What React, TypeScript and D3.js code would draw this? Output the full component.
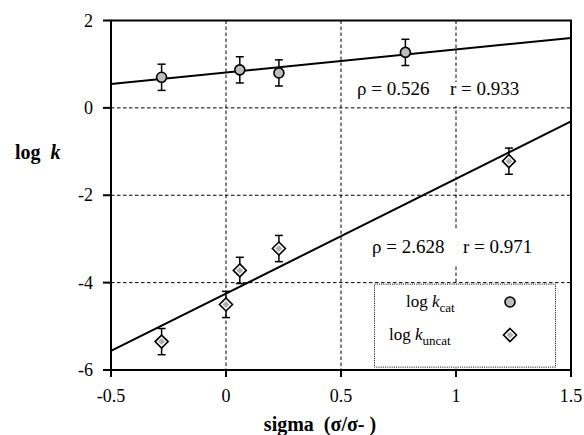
import { scaleLinear, line } from "d3";

// sigma values and log k readings
const catSigma = [-0.28, 0.06, 0.23, 0.78];
const catLogK = [0.7, 0.87, 0.8, 1.27];
const catErr = [0.3, 0.3, 0.3, 0.3];

const uncatSigma = [-0.28, 0, 0.06, 0.23, 1.23];
const uncatLogK = [-5.35, -4.5, -3.72, -3.22, -1.22];
const uncatErr = [0.3, 0.3, 0.3, 0.3, 0.3];

// linear fits (slope, intercept)
const catFit = [0.526, 0.81];
const uncatFit = [2.628, -4.25];

const xTicks = [-0.5, 0, 0.5, 1, 1.5];
const yTicks = [2, 0, -2, -4, -6];
const xGrid = [0, 0.5, 1];
const yGrid = [0, -2, -4];

const W = 584;
const H = 435;
const m = { left: 111, right: 13, top: 20.5, bottom: 65 };
const serif = "Liberation Serif, DejaVu Serif, serif";

export default function App() {
  const x = scaleLinear().domain([-0.5, 1.5]).range([m.left, W - m.right]);
  const y = scaleLinear().domain([-6, 2]).range([H - m.bottom, m.top]);

  const fitLine = (f: number[]) =>
    line<number>()
      .x((d) => x(d))
      .y((d) => y(f[0] * d + f[1]))([-0.5, 1.5]) as string;

  const errBar = (sx: number, v: number, e: number, key: string) => (
    <g key={key} stroke="#000" strokeWidth={1.5}>
      <line x1={x(sx)} x2={x(sx)} y1={y(v + e)} y2={y(v - e)} />
      <line x1={x(sx) - 4} x2={x(sx) + 4} y1={y(v + e)} y2={y(v + e)} />
      <line x1={x(sx) - 4} x2={x(sx) + 4} y1={y(v - e)} y2={y(v - e)} />
    </g>
  );

  const circle = (cx: number, cy: number, key: string) => (
    <circle key={key} cx={cx} cy={cy} r={5} fill="#bdbdbd" stroke="#000" strokeWidth={1.6} />
  );

  const diamond = (cx: number, cy: number, key: string) => (
    <g key={key}>
      <path
        d={`M${cx},${cy - 6.5}L${cx + 6.5},${cy}L${cx},${cy + 6.5}L${cx - 6.5},${cy}Z`}
        fill="#fff"
        stroke="#000"
        strokeWidth={1.6}
      />
      <path
        d={`M${cx},${cy - 3.5}L${cx + 3.5},${cy}L${cx},${cy + 3.5}L${cx - 3.5},${cy}Z`}
        fill="#b0b0b0"
      />
    </g>
  );

  const x0 = x(-0.5);
  const x1 = x(1.5);
  const yT = y(2);
  const yB = y(-6);

  return (
    <svg width={W} height={H} style={{ position: "absolute", left: 0, top: 0, fontFamily: serif }}>
      <rect width={W} height={H} fill="#fff" />

      {/* grid */}
      <g stroke="#000" strokeWidth={1} strokeDasharray="3.5,2.5">
        {xGrid.map((v) => (
          <line key={"gx" + v} x1={x(v)} x2={x(v)} y1={yT} y2={yB} />
        ))}
        {yGrid.map((v) => (
          <line key={"gy" + v} x1={x0} x2={x1} y1={y(v)} y2={y(v)} />
        ))}
      </g>

      {/* white boxes behind annotations */}
      <rect x={352} y={82} width={175} height={24} fill="#fff" />
      <rect x={368} y={228} width={170} height={38} fill="#fff" />

      {/* legend box */}
      <rect
        x={374.5}
        y={y(-4) + 1.5}
        width={181}
        height={83}
        fill="#fff"
        stroke="#000"
        strokeWidth={1}
        strokeDasharray="1,1.2"
      />

      {/* fit lines */}
      <path d={fitLine(catFit)} stroke="#000" strokeWidth={2} fill="none" />
      <path d={fitLine(uncatFit)} stroke="#000" strokeWidth={2} fill="none" />

      {/* error bars and markers */}
      {catSigma.map((s, i) => errBar(s, catLogK[i], catErr[i], "ec" + i))}
      {uncatSigma.map((s, i) => errBar(s, uncatLogK[i], uncatErr[i], "eu" + i))}
      {catSigma.map((s, i) => circle(x(s), y(catLogK[i]), "c" + i))}
      {uncatSigma.map((s, i) => diamond(x(s), y(uncatLogK[i]), "d" + i))}

      {/* frame */}
      <rect x={x0} y={yT} width={x1 - x0} height={yB - yT} fill="none" stroke="#000" strokeWidth={2} />

      {/* ticks */}
      <g stroke="#000" strokeWidth={2}>
        {yTicks.map((v) => (
          <line key={"ty" + v} x1={x0 - 8} x2={x0} y1={y(v)} y2={y(v)} />
        ))}
        {xTicks.map((v) => (
          <line key={"tx" + v} x1={x(v)} x2={x(v)} y1={yB} y2={yB + 7} />
        ))}
      </g>
      <g fontSize={18} fill="#000">
        {yTicks.map((v) => (
          <text key={"ly" + v} x={x0 - 18} y={y(v) + 6} textAnchor="end">
            {String(v)}
          </text>
        ))}
        {xTicks.map((v) => (
          <text key={"lx" + v} x={x(v)} y={yB + 32} textAnchor="middle">
            {String(v)}
          </text>
        ))}
      </g>

      {/* annotations */}
      <text x={357} y={95} fontSize={19}>
        ρ = 0.526
      </text>
      <text x={450} y={95} fontSize={19}>
        r = 0.933
      </text>
      <text x={372} y={253} fontSize={19}>
        ρ = 2.628
      </text>
      <text x={463} y={253} fontSize={19}>
        r = 0.971
      </text>

      {/* legend */}
      <text x={406} y={307} fontSize={17}>
        log <tspan fontStyle="italic">k</tspan>
        <tspan fontSize={13} dy={5}>cat</tspan>
      </text>
      {circle(510, 302, "lc")}
      <text x={389} y={340} fontSize={17}>
        log <tspan fontStyle="italic">k</tspan>
        <tspan fontSize={13} dy={5}>uncat</tspan>
      </text>
      {diamond(510, 335, "ld")}

      {/* axis titles */}
      <text x={15} y={159} fontSize={20} fontWeight="bold">
        log{"\u00a0\u00a0"}
        <tspan fontStyle="italic">k</tspan>
      </text>
      <text x={320} y={431} fontSize={20} fontWeight="bold" textAnchor="middle">
        sigma{"\u00a0\u00a0"}(σ/σ- )
      </text>
    </svg>
  );
}
